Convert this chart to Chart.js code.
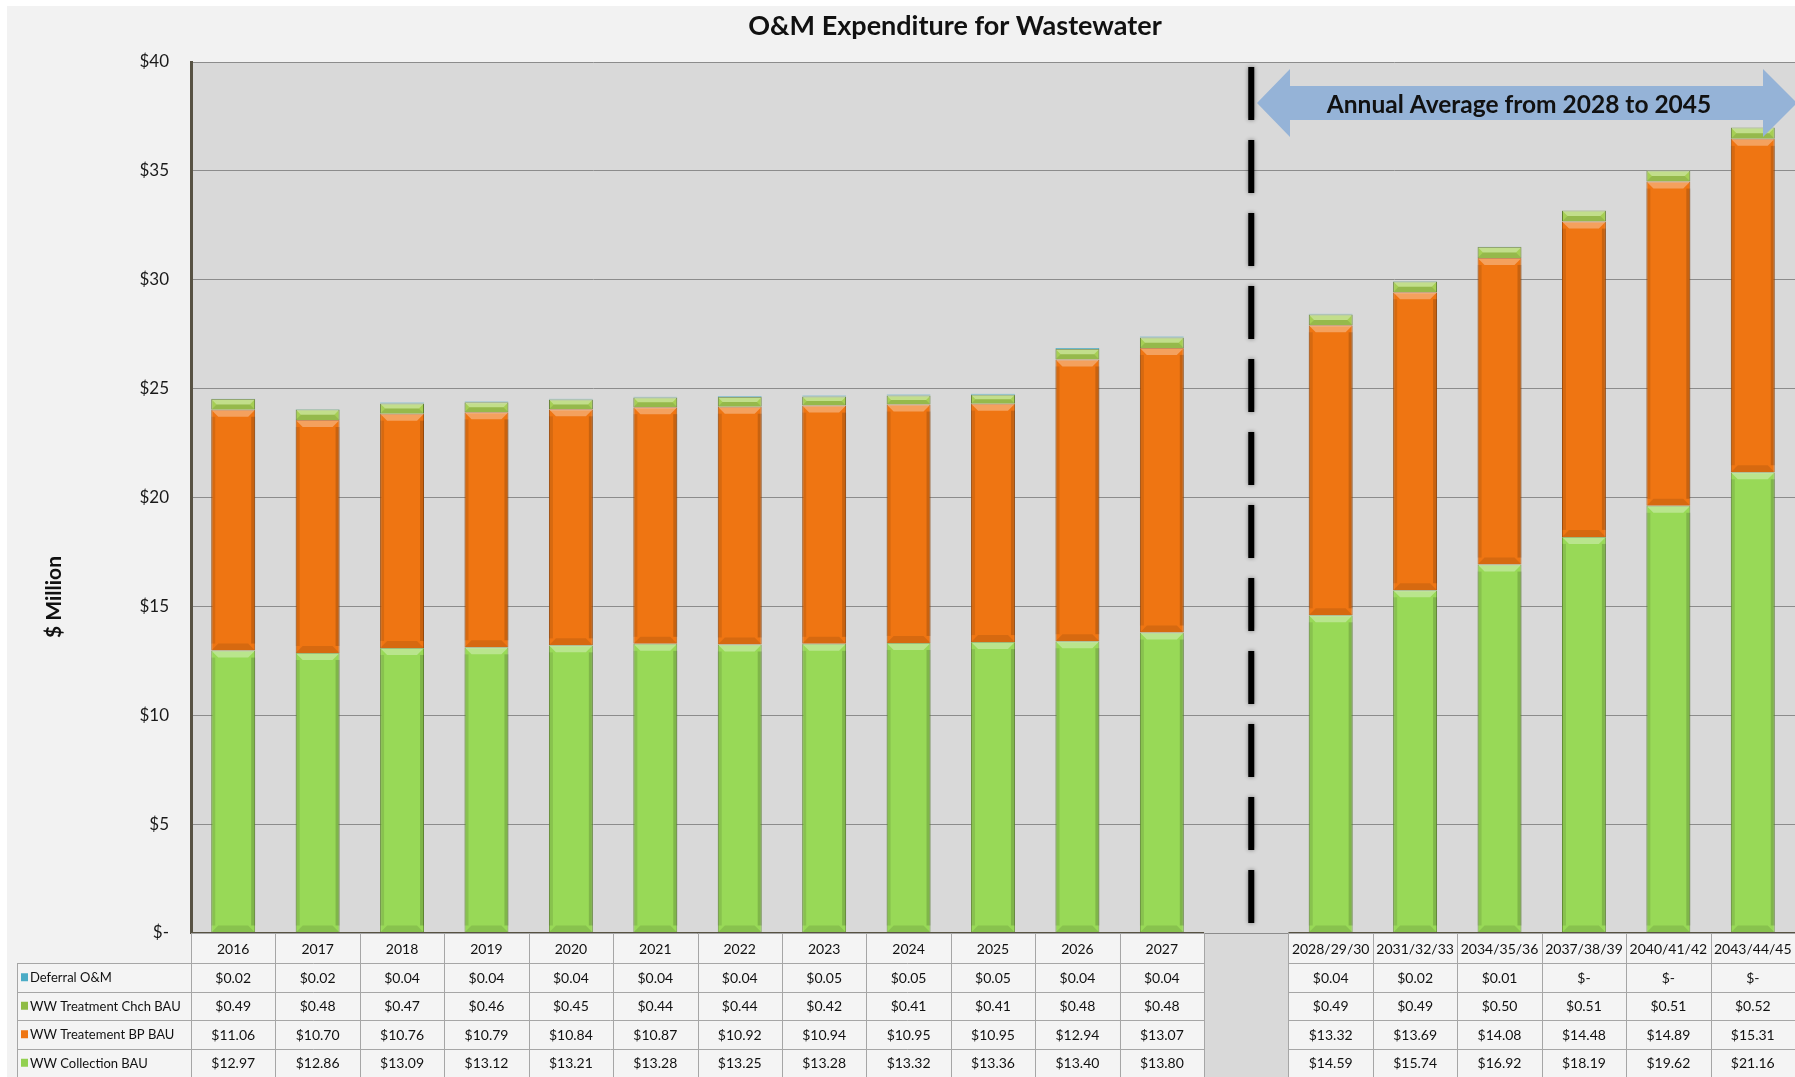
<!DOCTYPE html>
<html>
<head>
<meta charset="utf-8">
<title>O&amp;M Expenditure for Wastewater</title>
<script src="https://cdn.jsdelivr.net/npm/chart.js@4/dist/chart.umd.min.js"></script>
<style>
  html, body { margin: 0; padding: 0; background: #ffffff; }
  #wrap { width: 1795px; height: 1077px; }
</style>
</head>
<body>
<div id="wrap"><canvas id="omChart" width="1795" height="1077"></canvas></div>
<script>
// Categories (index 12 is the empty gap before the averages)
const categories = ['2016', '2017', '2018', '2019', '2020', '2021', '2022', '2023', '2024', '2025', '2026', '2027', '',
    '2028/29/30', '2031/32/33', '2034/35/36', '2037/38/39', '2040/41/42', '2043/44/45'];

// Series values, $ million
const deferralOM = [0.02, 0.02, 0.04, 0.04, 0.04, 0.04, 0.04, 0.05, 0.05, 0.05, 0.04, 0.04, null,
    0.04, 0.02, 0.01, 0, 0, 0];
const treatmentChch = [0.49, 0.48, 0.47, 0.46, 0.45, 0.44, 0.44, 0.42, 0.41, 0.41, 0.48, 0.48, null,
    0.49, 0.49, 0.50, 0.51, 0.51, 0.52];
const treatmentBP = [11.06, 10.70, 10.76, 10.79, 10.84, 10.87, 10.92, 10.94, 10.95, 10.95, 12.94, 13.07, null,
    13.32, 13.69, 14.08, 14.48, 14.89, 15.31];
const collection = [12.97, 12.86, 13.09, 13.12, 13.21, 13.28, 13.25, 13.28, 13.32, 13.36, 13.40, 13.80, null,
    14.59, 15.74, 16.92, 18.19, 19.62, 21.16];

// Y axis
const yMax = 40;
const yStep = 5;

const gapIndex = 12;
const FONT = 'Lato, "Open Sans", sans-serif';

function money(v) {
    if (v === null) return '';
    return v === 0 ? '$-' : '$' + v.toFixed(2);
}

// table rows, top to bottom, as in the original
const tableRows = [
    { label: 'Deferral O&M', values: deferralOM, color: '#4bacc6' },
    { label: 'WW Treatment Chch BAU', values: treatmentChch, color: '#8fbc45' },
    { label: 'WW Treatement BP BAU', values: treatmentBP, color: '#ef7512' },
    { label: 'WW Collection BAU', values: collection, color: '#92d050' }
];

// backgrounds: outer panel and the grey plot area (incl. the gap column below the axis)
const backgroundPlugin = {
    id: 'backgrounds',
    beforeDraw(chart) {
        const { ctx, chartArea, scales } = chart;
        ctx.save();
        ctx.fillStyle = '#f2f2f2';
        ctx.fillRect(7, 6, chart.width - 7, chart.height - 6);
        ctx.fillStyle = '#d9d9d9';
        ctx.fillRect(chartArea.left, chartArea.top, chartArea.right - chartArea.left, chartArea.bottom - chartArea.top);
        const x = scales.x;
        const w = (chartArea.right - chartArea.left) / categories.length;
        const gx = x.getPixelForValue(gapIndex) - w / 2;
        ctx.fillRect(gx, chartArea.bottom, w, chart.height - chartArea.bottom);
        ctx.restore();
    }
};

// bevel look on each bar segment
const bevelPlugin = {
    id: 'bevel',
    afterDatasetsDraw(chart) {
        const ctx = chart.ctx;
        ctx.save();
        chart.data.datasets.forEach((ds, di) => {
            const meta = chart.getDatasetMeta(di);
            meta.data.forEach((bar) => {
                if (bar.skip) return;
                const p = bar.getProps(['x', 'y', 'base', 'width'], true);
                const top = Math.min(p.y, p.base);
                const bottom = Math.max(p.y, p.base);
                const h = bottom - top;
                if (h < 3) return;
                const l = p.x - p.width / 2;
                const r = p.x + p.width / 2;
                const b = Math.min(7, h / 2);
                // top highlight
                ctx.fillStyle = 'rgba(255,255,255,0.32)';
                ctx.beginPath();
                ctx.moveTo(l, top); ctx.lineTo(r, top); ctx.lineTo(r - b, top + b); ctx.lineTo(l + b, top + b);
                ctx.closePath(); ctx.fill();
                // bottom shade
                ctx.fillStyle = 'rgba(0,0,0,0.10)';
                ctx.beginPath();
                ctx.moveTo(l, bottom); ctx.lineTo(r, bottom); ctx.lineTo(r - b, bottom - b); ctx.lineTo(l + b, bottom - b);
                ctx.closePath(); ctx.fill();
                // side shades
                ctx.fillStyle = 'rgba(0,0,0,0.10)';
                ctx.fillRect(l, top + b, 4, h - 2 * b);
                ctx.fillStyle = 'rgba(0,0,0,0.16)';
                ctx.fillRect(r - 4, top + b, 4, h - 2 * b);
            });
        });
        ctx.restore();
    }
};

// title, axis title, dashed divider, arrow and the data table
const decorPlugin = {
    id: 'decor',
    afterDraw(chart) {
        const { ctx, chartArea, scales } = chart;
        const x = scales.x;
        const colW = (chartArea.right - chartArea.left) / categories.length;
        ctx.save();

        // title
        ctx.fillStyle = '#111';
        ctx.font = 'bold 27px ' + FONT;
        ctx.textAlign = 'center';
        ctx.textBaseline = 'middle';
        ctx.fillText('O&M Expenditure for Wastewater', 955, 26);

        // y axis title
        ctx.save();
        ctx.translate(54, 597);
        ctx.rotate(-Math.PI / 2);
        ctx.font = 'bold 21px ' + FONT;
        ctx.fillText('$ Million', 0, 0);
        ctx.restore();

        // bottom axis line
        ctx.strokeStyle = '#575243';
        ctx.lineWidth = 2;
        ctx.beginPath();
        ctx.moveTo(chartArea.left, chartArea.bottom);
        ctx.lineTo(x.getPixelForValue(gapIndex) - colW / 2, chartArea.bottom);
        ctx.moveTo(x.getPixelForValue(gapIndex) + colW / 2, chartArea.bottom);
        ctx.lineTo(chartArea.right, chartArea.bottom);
        ctx.stroke();

        // dashed divider
        const dx = x.getPixelForValue(gapIndex) + 5;
        ctx.save();
        ctx.shadowColor = 'rgba(0,0,0,0.45)';
        ctx.shadowBlur = 4;
        ctx.strokeStyle = '#000';
        ctx.lineWidth = 6;
        ctx.setLineDash([53, 20]);
        ctx.beginPath();
        ctx.moveTo(dx, 67);
        ctx.lineTo(dx, chartArea.bottom);
        ctx.stroke();
        ctx.restore();

        // double arrow
        const ay = 103;
        ctx.save();
        ctx.fillStyle = '#95b3d7';
        ctx.beginPath();
        ctx.moveTo(1257, ay);
        ctx.lineTo(1290, 69);
        ctx.lineTo(1290, 86);
        ctx.lineTo(1763, 86);
        ctx.lineTo(1763, 69);
        ctx.lineTo(1797, ay);
        ctx.lineTo(1763, 137);
        ctx.lineTo(1763, 120);
        ctx.lineTo(1290, 120);
        ctx.lineTo(1290, 137);
        ctx.closePath();
        ctx.fill();
        ctx.restore();
        ctx.fillStyle = '#111';
        ctx.font = 'bold 24.5px ' + FONT;
        ctx.fillText('Annual Average from 2028 to 2045', 1519, 105);

        // data table
        const headTop = chartArea.bottom;
        const headH = 30;
        const rowH = (chart.height - headTop - headH) / tableRows.length;
        const labelLeft = 17;

        categories.forEach((cat, i) => {
            if (i === gapIndex) return;
            const cx = x.getPixelForValue(i);
            const l = cx - colW / 2;
            ctx.fillStyle = '#f4f4f4';
            ctx.fillRect(l, headTop + 1, colW, chart.height - headTop);
        });
        ctx.fillStyle = '#f4f4f4';
        ctx.fillRect(labelLeft, headTop + headH, chartArea.left - labelLeft, chart.height - headTop - headH);

        ctx.strokeStyle = '#a6a6a6';
        ctx.lineWidth = 1;
        const groups = [[0, gapIndex - 1], [gapIndex + 1, categories.length - 1]];
        groups.forEach(([a, b], gi) => {
            const gl = x.getPixelForValue(a) - colW / 2;
            const gr = x.getPixelForValue(b) + colW / 2;
            const rowLeft = gi === 0 ? labelLeft : gl;
            ctx.beginPath();
            ctx.moveTo(gl, headTop + 0.5); ctx.lineTo(gr, headTop + 0.5);
            for (let r = 0; r <= tableRows.length; r++) {
                const y = Math.round(headTop + headH + r * rowH) + 0.5;
                ctx.moveTo(rowLeft, y); ctx.lineTo(gr, y);
            }
            for (let i = a; i <= b + 1; i++) {
                const vx = Math.round(x.getPixelForValue(a) - colW / 2 + (i - a) * colW) + 0.5;
                ctx.moveTo(vx, headTop); ctx.lineTo(vx, chart.height);
            }
            if (gi === 0) {
                ctx.moveTo(labelLeft + 0.5, headTop + headH); ctx.lineTo(labelLeft + 0.5, chart.height);
            }
            ctx.stroke();
        });

        // header text and values
        ctx.fillStyle = '#111';
        ctx.textAlign = 'center';
        ctx.textBaseline = 'middle';
        categories.forEach((cat, i) => {
            if (i === gapIndex) return;
            const cx = x.getPixelForValue(i);
            ctx.font = '14px ' + FONT;
            ctx.fillText(cat, cx, headTop + headH / 2 + 1);
            tableRows.forEach((row, r) => {
                ctx.fillText(money(row.values[i]), cx, headTop + headH + r * rowH + rowH / 2 + 1);
            });
        });

        // row labels with legend keys
        ctx.textAlign = 'left';
        ctx.font = '13px ' + FONT;
        tableRows.forEach((row, r) => {
            const cy = headTop + headH + r * rowH + rowH / 2;
            ctx.fillStyle = row.color;
            ctx.fillRect(21, cy - 4, 7, 8);
            ctx.fillStyle = '#111';
            ctx.fillText(row.label, 30, cy + 1);
        });

        ctx.restore();
    }
};

const data = {
    labels: categories,
    datasets: [
        {
            label: 'WW Collection BAU',
            data: collection,
            backgroundColor: '#98d957',
            borderColor: '#6f9d3c',
            borderWidth: 1
        },
        {
            label: 'WW Treatement BP BAU',
            data: treatmentBP,
            backgroundColor: '#ef7512',
            borderColor: '#b0560e',
            borderWidth: 1
        },
        {
            label: 'WW Treatment Chch BAU',
            data: treatmentChch,
            backgroundColor: '#a6cf54',
            borderColor: '#5f7d2f',
            borderWidth: 1
        },
        {
            label: 'Deferral O&M',
            data: deferralOM,
            backgroundColor: '#4bacc6',
            borderColor: '#4bacc6',
            borderWidth: 1
        }
    ]
};

const config = {
    type: 'bar',
    data: data,
    options: {
        responsive: false,
        animation: false,
        layout: {
            padding: { left: 0, right: 0, top: 62, bottom: 144 }
        },
        datasets: {
            bar: { categoryPercentage: 1.0, barPercentage: 0.52 }
        },
        scales: {
            x: {
                stacked: true,
                display: false
            },
            y: {
                stacked: true,
                min: 0,
                max: yMax,
                afterFit(scale) { scale.width = 191; },
                border: { color: '#575243', width: 3 },
                grid: { color: '#8c8c8c', lineWidth: 1, drawTicks: false },
                ticks: {
                    stepSize: yStep,
                    padding: 22,
                    color: '#1a1a1a',
                    font: { family: FONT, size: 17 },
                    callback: (v) => v === 0 ? '$-' : '$' + v
                }
            }
        },
        plugins: {
            legend: { display: false },
            title: { display: false },
            tooltip: { enabled: false }
        }
    },
    plugins: [backgroundPlugin, bevelPlugin, decorPlugin]
};

window.onload = function() {
    const ctx = document.getElementById('omChart').getContext('2d');
    new Chart(ctx, config);
};
</script>
</body>
</html>
